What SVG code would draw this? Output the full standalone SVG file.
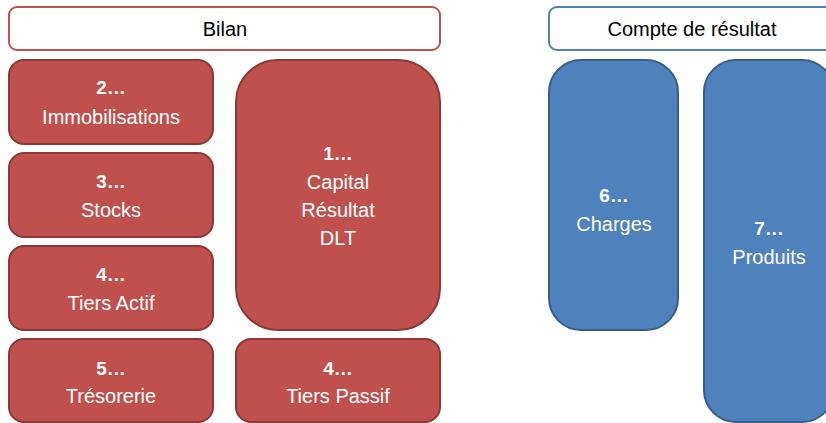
<svg xmlns="http://www.w3.org/2000/svg" width="826" height="423" viewBox="0 0 826 423">
<style>
  text { font-family: "Liberation Sans", Arial, sans-serif; text-anchor: middle; }
  .hdr-r { fill: #ffffff; stroke: #C0504D; stroke-width: 2; }
  .hdr-b { fill: #ffffff; stroke: #4F81BD; stroke-width: 2; }
  .red { fill: #C0504D; stroke: #8C3836; stroke-width: 2; }
  .blue { fill: #4F81BD; stroke: #385D8A; stroke-width: 2; }
  .ht { font-size: 20px; fill: #000000; }
  .num { font-size: 19px; font-weight: bold; fill: #ffffff; }
  .lbl { font-size: 20px; fill: #ffffff; }
</style>
<rect width="826" height="423" fill="#ffffff"/>
<g id="bilan-header">
  <rect class="hdr-r" x="9" y="7" width="431" height="43" rx="8"/>
  <text class="ht" x="225" y="36">Bilan</text>
</g>
<g id="immobilisations">
  <rect class="red" x="9" y="60" width="204" height="84" rx="15"/>
  <text class="num" x="111" y="94">2…</text>
  <text class="lbl" x="111" y="124">Immobilisations</text>
</g>
<g id="stocks">
  <rect class="red" x="9" y="153" width="204" height="84" rx="15"/>
  <text class="num" x="111" y="188">3…</text>
  <text class="lbl" x="111" y="217">Stocks</text>
</g>
<g id="tiers-actif">
  <rect class="red" x="9" y="246" width="204" height="84" rx="15"/>
  <text class="num" x="111" y="281">4…</text>
  <text class="lbl" x="111" y="310">Tiers Actif</text>
</g>
<g id="tresorerie">
  <rect class="red" x="9" y="339" width="204" height="83" rx="15"/>
  <text class="num" x="111" y="375">5…</text>
  <text class="lbl" x="111" y="403">Trésorerie</text>
</g>
<g id="capital">
  <rect class="red" x="236" y="60" width="204" height="270" rx="42"/>
  <text class="num" x="338" y="160">1…</text>
  <text class="lbl" x="338" y="189">Capital</text>
  <text class="lbl" x="338" y="217">Résultat</text>
  <text class="lbl" x="338" y="245">DLT</text>
</g>
<g id="tiers-passif">
  <rect class="red" x="236" y="339" width="204" height="83" rx="15"/>
  <text class="num" x="338" y="375">4…</text>
  <text class="lbl" x="338" y="403">Tiers Passif</text>
</g>
<g id="compte-header">
  <rect class="hdr-b" x="549" y="7" width="285" height="43" rx="8"/>
  <text class="ht" x="692" y="36">Compte de résultat</text>
</g>
<g id="charges">
  <rect class="blue" x="549" y="60" width="129" height="270" rx="32"/>
  <text class="num" x="614" y="202">6…</text>
  <text class="lbl" x="614" y="231">Charges</text>
</g>
<g id="produits">
  <rect class="blue" x="704" y="60" width="130" height="362" rx="32"/>
  <text class="num" x="769" y="235">7…</text>
  <text class="lbl" x="769" y="264">Produits</text>
</g>
<g id="connectors"></g>
</svg>
